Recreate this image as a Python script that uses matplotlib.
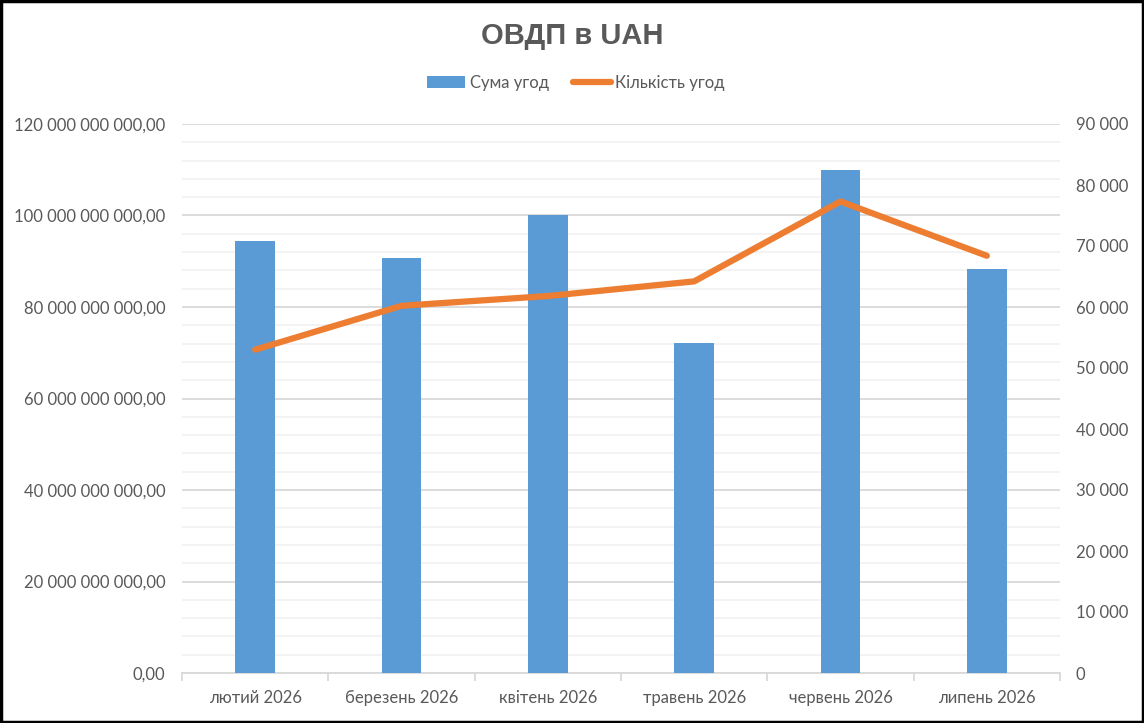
import matplotlib
matplotlib.use("Agg")
import matplotlib.pyplot as plt
from matplotlib.ticker import FuncFormatter, MultipleLocator
from matplotlib.lines import Line2D
from matplotlib.patches import Patch, Rectangle
import numpy as np

categories = ["лютий 2026", "березень 2026", "квітень 2026", "травень 2026", "червень 2026", "липень 2026"]
amounts = [94.4e9, 90.7e9, 100.1e9, 72.1e9, 110.0e9, 88.3e9]
counts = [53000, 60200, 61800, 64200, 77300, 68400]

bar_color = "#5B9BD5"
line_color = "#ED7D31"
text_color = "#595959"
font = ["Lato", "DejaVu Sans"]
fs = 12

fig = plt.figure(figsize=(11.44, 7.23), dpi=100)
ax = fig.add_axes([182/1144, 50/723, (1060-182)/1144, (673-124)/723])
ax2 = ax.twinx()

x = np.arange(len(categories))
ax.bar(x, amounts, width=0.27, color=bar_color, zorder=3)
ax2.plot(x, counts, color=line_color, lw=4.5, solid_capstyle="round", solid_joinstyle="round", zorder=4)

ax.set_xlim(-0.5, len(categories) - 0.5)
ax.set_ylim(0, 120e9)
ax2.set_ylim(0, 90000)

ax.yaxis.set_major_locator(MultipleLocator(20e9))
ax.yaxis.set_minor_locator(MultipleLocator(4e9))
ax2.yaxis.set_major_locator(MultipleLocator(10000))

def fmt_left(v, pos):
    s = f"{int(round(v)):,}".replace(",", " ")
    return s + ",00"

def fmt_right(v, pos):
    return f"{int(round(v)):,}".replace(",", " ")

ax.yaxis.set_major_formatter(FuncFormatter(fmt_left))
ax2.yaxis.set_major_formatter(FuncFormatter(fmt_right))

ax.grid(axis="y", which="major", color="#D9D9D9", lw=1.3, zorder=0)
ax.grid(axis="y", which="minor", color="#F2F2F2", lw=1.3, zorder=0)
ax.set_axisbelow(True)

for a in (ax, ax2):
    for s in a.spines.values():
        s.set_visible(False)
ax.spines["bottom"].set_visible(True)
ax.spines["bottom"].set_color("#D9D9D9")
ax.spines["bottom"].set_linewidth(1.3)

ax.set_xticks(x)
ax.set_xticklabels(categories)
ax.set_xticks(np.arange(-0.5, len(categories), 1.0), minor=True)
ax.tick_params(axis="x", which="major", length=0, pad=12, labelsize=fs, labelcolor=text_color)
ax.tick_params(axis="x", which="minor", length=6, color="#D9D9D9", width=1.3, direction="out")
ax.tick_params(axis="y", which="both", length=0, pad=12, labelsize=fs, labelcolor=text_color)
ax2.tick_params(axis="y", which="both", length=0, pad=11.5, labelsize=fs, labelcolor=text_color)

for lbl in ax.get_xticklabels() + ax.get_yticklabels() + ax2.get_yticklabels():
    lbl.set_fontfamily(font)

fig.text(0.5, 1 - 36/723, "ОВДП в UAH", ha="center", va="center", fontsize=21,
         fontweight="bold", color=text_color, family="Liberation Sans")

handles = [Patch(facecolor=bar_color, edgecolor="none"),
           Line2D([0], [0], color=line_color, lw=4.5, solid_capstyle="round")]
leg = fig.legend(handles, ["Сума угод", "Кількість угод"], loc="center",
                 bbox_to_anchor=(576/1144, 1 - 83/723), ncol=2, frameon=False,
                 prop={"family": font, "size": fs}, handlelength=2.3,
                 handletextpad=0.25, columnspacing=1.45)
for t in leg.get_texts():
    t.set_color(text_color)

fig.patches.append(Rectangle((0.001, 0.001), 0.998, 0.997, transform=fig.transFigure,
                             fill=False, edgecolor="black", lw=2.5))

fig.savefig("out.png", dpi=100)
